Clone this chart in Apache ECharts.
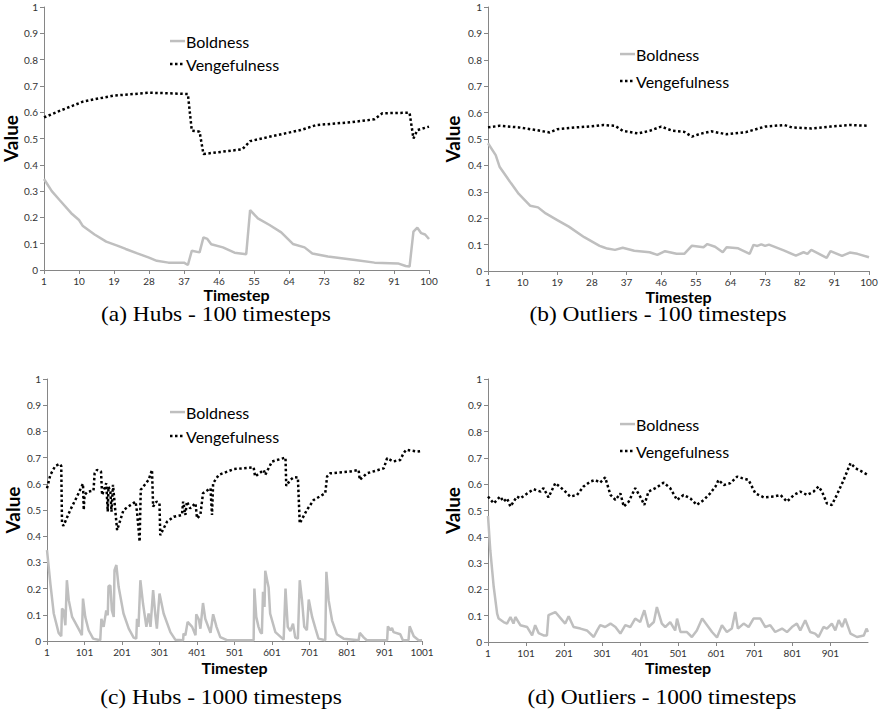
<!DOCTYPE html>
<html lang="en">
<head>
<meta charset="UTF-8">
<title>Boldness and Vengefulness</title>
<script src="https://cdn.jsdelivr.net/npm/echarts@6/dist/echarts.min.js"></script>
<style>
  html, body { margin: 0; padding: 0; background: #fff; }
  #main { width: 881px; height: 726px; }
</style>
</head>
<body>
<div id="main"></div>
<script>
// [timestep, value] pairs

// (a) Hubs - 100 timesteps
var hubs100Bold = [[1,0.346],[3,0.3],[5,0.266],[8,0.216],[10,0.19],[11,0.167],[14,0.135],[17,0.108],[20,0.092],[22,0.08],[25,0.063],[28,0.047],[30,0.035],[33,0.028],[37,0.028],[38,0.019],[39,0.073],[41,0.067],[42,0.124],[43,0.118],[44,0.098],[47,0.086],[50,0.066],[53,0.06],[54,0.228],[56,0.196],[59,0.171],[62,0.143],[65,0.099],[68,0.086],[70,0.063],[74,0.051],[81,0.038],[86,0.028],[92,0.025],[94,0.015],[95,0.013],[96,0.146],[97,0.161],[98,0.14],[99,0.135],[100,0.118]];
var hubs100Veng = [[1,0.58],[5,0.605],[11,0.64],[15,0.652],[19,0.663],[24,0.669],[28,0.674],[33,0.672],[38,0.669],[39,0.53],[41,0.526],[42,0.441],[47,0.45],[52,0.459],[54,0.49],[60,0.51],[67,0.532],[71,0.551],[80,0.562],[86,0.573],[88,0.596],[95,0.598],[96,0.5],[97,0.532],[100,0.545]];

// (b) Outliers - 100 timesteps
var out100Bold = [[1,0.484],[3,0.439],[4,0.395],[7,0.332],[9,0.292],[12,0.247],[14,0.241],[16,0.218],[19,0.193],[22,0.168],[26,0.128],[30,0.095],[31,0.09],[32,0.085],[34,0.08],[36,0.088],[39,0.077],[43,0.071],[45,0.061],[47,0.075],[50,0.065],[52,0.065],[54,0.096],[57,0.09],[58,0.102],[60,0.092],[62,0.071],[63,0.09],[66,0.086],[69,0.065],[70,0.099],[71,0.095],[72,0.101],[73,0.095],[74,0.1],[78,0.077],[81,0.058],[83,0.071],[84,0.065],[85,0.08],[89,0.05],[90,0.075],[93,0.057],[95,0.07],[97,0.065],[100,0.052]];
var out100Veng = [[1,0.544],[4,0.55],[9,0.544],[13,0.535],[17,0.525],[19,0.537],[24,0.544],[28,0.548],[31,0.553],[34,0.55],[36,0.531],[40,0.521],[43,0.531],[46,0.547],[49,0.531],[52,0.527],[54,0.509],[56,0.519],[59,0.529],[63,0.518],[68,0.526],[73,0.547],[78,0.553],[80,0.544],[85,0.54],[90,0.547],[95,0.553],[100,0.55]];

// (c) Hubs - 1000 timesteps
var hubs1000Bold = [[1,0.347],[10,0.219],[19,0.105],[32,0.031],[39,0.018],[41,0.124],[45,0.117],[50,0.06],[54,0.232],[59,0.156],[68,0.092],[85,0.047],[94,0.022],[97,0.162],[103,0.092],[112,0.041],[124,0.009],[143,0.003],[146,0.085],[152,0.054],[159,0.117],[163,0.098],[165,0.209],[170,0.212],[174,0.117],[179,0.092],[181,0.27],[186,0.29],[192,0.207],[205,0.105],[219,0.047],[232,0.013],[239,0.009],[241,0.085],[245,0.054],[250,0.232],[257,0.143],[266,0.054],[272,0.105],[277,0.054],[284,0.194],[290,0.098],[294,0.047],[301,0.181],[312,0.105],[330,0.034],[343,0.005],[364,0.003],[365,0.028],[370,0.022],[376,0.073],[388,0.054],[397,0.022],[399,0.102],[406,0.082],[410,0.047],[417,0.145],[423,0.085],[437,0.031],[444,0.102],[453,0.054],[463,0.015],[481,0.003],[552,0.003],[554,0.2],[559,0.092],[565,0.054],[570,0.034],[574,0.028],[577,0.188],[581,0.13],[583,0.268],[588,0.232],[592,0.204],[596,0.105],[610,0.034],[632,0.005],[637,0.2],[643,0.054],[650,0.038],[657,0.066],[663,0.013],[670,0.009],[675,0.232],[681,0.156],[687,0.054],[694,0.041],[699,0.158],[708,0.092],[717,0.047],[725,0.009],[743,0.003],[746,0.264],[752,0.156],[761,0.079],[774,0.026],[792,0.009],[832,0.003],[835,0.031],[846,0.013],[854,0.003],[908,0.003],[910,0.056],[917,0.041],[921,0.05],[925,0.034],[943,0.026],[950,0.003],[965,0.003],[968,0.056],[979,0.018],[992,0.003],[1001,0.003]];
var hubs1000Veng = [[1,0.583],[10,0.634],[23,0.668],[35,0.676],[39,0.668],[41,0.449],[45,0.44],[63,0.5],[81,0.551],[94,0.592],[97,0.6],[99,0.5],[101,0.557],[109,0.57],[125,0.574],[128,0.64],[134,0.653],[145,0.647],[148,0.557],[159,0.602],[163,0.494],[165,0.589],[170,0.57],[173,0.494],[177,0.596],[183,0.5],[188,0.423],[205,0.5],[237,0.532],[241,0.494],[248,0.379],[250,0.513],[251,0.577],[272,0.615],[281,0.653],[284,0.513],[293,0.532],[301,0.526],[303,0.404],[321,0.455],[339,0.474],[361,0.481],[364,0.532],[370,0.481],[374,0.532],[383,0.506],[397,0.526],[401,0.468],[410,0.481],[417,0.564],[437,0.583],[441,0.481],[444,0.602],[459,0.634],[499,0.656],[552,0.663],[556,0.628],[579,0.653],[583,0.634],[601,0.685],[632,0.698],[637,0.7],[639,0.592],[650,0.615],[659,0.625],[670,0.624],[675,0.449],[694,0.5],[712,0.538],[743,0.564],[748,0.628],[756,0.64],[810,0.647],[832,0.653],[835,0.615],[854,0.64],[899,0.659],[908,0.698],[924,0.685],[943,0.691],[952,0.717],[959,0.73],[988,0.723],[1001,0.725]];

// (d) Outliers - 1000 timesteps
var out1000Bold = [[1,0.479],[7,0.349],[16,0.21],[25,0.108],[29,0.089],[42,0.076],[51,0.07],[60,0.095],[68,0.07],[73,0.095],[86,0.064],[104,0.057],[117,0.025],[125,0.064],[134,0.034],[147,0.025],[156,0.025],[160,0.102],[178,0.114],[196,0.083],[204,0.07],[213,0.098],[226,0.057],[244,0.051],[261,0.044],[279,0.019],[288,0.044],[296,0.064],[309,0.057],[323,0.07],[336,0.057],[349,0.032],[362,0.064],[375,0.057],[388,0.089],[401,0.076],[412,0.121],[423,0.057],[437,0.076],[445,0.133],[458,0.07],[467,0.057],[480,0.076],[493,0.044],[498,0.089],[507,0.038],[524,0.038],[537,0.019],[550,0.044],[564,0.089],[577,0.064],[590,0.038],[603,0.017],[616,0.064],[629,0.038],[642,0.051],[651,0.114],[658,0.051],[673,0.07],[686,0.057],[699,0.089],[717,0.089],[730,0.057],[743,0.064],[756,0.038],[774,0.051],[787,0.038],[800,0.057],[813,0.07],[822,0.044],[835,0.083],[848,0.038],[861,0.032],[870,0.019],[883,0.057],[892,0.051],[905,0.07],[914,0.044],[923,0.083],[932,0.057],[940,0.089],[954,0.032],[971,0.019],[989,0.025],[996,0.051],[1000,0.038]];
var out1000Veng = [[1,0.553],[16,0.527],[33,0.553],[42,0.534],[51,0.546],[60,0.515],[77,0.553],[86,0.546],[104,0.565],[121,0.581],[139,0.572],[147,0.585],[160,0.55],[178,0.604],[200,0.578],[217,0.553],[235,0.559],[252,0.591],[270,0.61],[283,0.616],[296,0.606],[309,0.626],[323,0.559],[336,0.54],[349,0.565],[358,0.515],[371,0.534],[388,0.585],[401,0.553],[412,0.521],[423,0.572],[441,0.585],[454,0.597],[463,0.606],[480,0.585],[498,0.54],[515,0.559],[533,0.546],[550,0.521],[568,0.54],[585,0.565],[599,0.591],[607,0.616],[621,0.597],[638,0.604],[656,0.629],[669,0.623],[686,0.616],[704,0.565],[726,0.55],[752,0.553],[770,0.559],[787,0.534],[805,0.559],[822,0.572],[840,0.559],[857,0.572],[870,0.591],[879,0.572],[892,0.527],[905,0.521],[918,0.559],[936,0.616],[954,0.68],[967,0.661],[984,0.648],[1000,0.635]];

var panels = [
  { bold: hubs100Bold, veng: hubs100Veng, grid: { left: 44, top: 7, width: 385, height: 263 },
    max: 99, interval: 9, showMax: true, xNameGap: 13, yNameGap: 22,
    legend: { left: 170, top: 33, itemGap: 7 } },
  { bold: out100Bold, veng: out100Veng, grid: { left: 488, top: 7, width: 381, height: 264 },
    max: 99, interval: 9, showMax: true, xNameGap: 17, yNameGap: 26,
    legend: { left: 620, top: 46, itemGap: 11 } },
  { bold: hubs1000Bold, veng: hubs1000Veng, grid: { left: 47, top: 379, width: 375, height: 262 },
    max: 1000, interval: 100, showMax: true, xNameGap: 18, yNameGap: 25,
    legend: { left: 170, top: 404, itemGap: 8 } },
  { bold: out1000Bold, veng: out1000Veng, grid: { left: 488, top: 379, width: 380, height: 263 },
    max: 999, interval: 100, showMax: false, xNameGap: 17, yNameGap: 26,
    legend: { left: 620, top: 416, itemGap: 11 } }
];

var captions = [
  { text: '(a) Hubs - 100 timesteps', x: 216, y: 315 },
  { text: '(b) Outliers - 100 timesteps', x: 658, y: 315 },
  { text: '(c) Hubs - 1000 timesteps', x: 221, y: 698 },
  { text: '(d) Outliers - 1000 timesteps', x: 662, y: 698 }
];

var labelFont = 'Lato, "Open Sans", sans-serif';
var axisGrey = '#868686';
var boldGrey = '#BFBFBF';
// legend keys: a short solid bar and three square dots, inside a 15x14 box
var boldIcon = 'path://M0,0M15,14M0,5.8h15v2.5h-15z';
var vengIcon = 'path://M0,0M15,14M0,5.8h2.5v2.5h-2.5zM5,5.8h2.5v2.5h-2.5zM10,5.8h2.5v2.5h-2.5z';

function shift(arr) {
  return arr.map(function (p) { return [p[0] - 1, p[1]]; });
}

var grids = [], xAxes = [], yAxes = [], series = [], legends = [];
panels.forEach(function (p, i) {
  grids.push(p.grid);
  xAxes.push({
    type: 'value', gridIndex: i, min: 0, max: p.max, interval: p.interval,
    name: 'Timestep', nameLocation: 'middle', nameGap: p.xNameGap,
    nameTextStyle: { fontFamily: labelFont, fontWeight: 'bold', fontSize: 16, color: '#000', verticalAlign: 'top', lineHeight: 16 },
    splitLine: { show: false },
    axisLine: { show: true, lineStyle: { color: axisGrey, width: 1 } },
    axisTick: { show: true, length: 4, lineStyle: { color: axisGrey } },
    axisLabel: { fontFamily: labelFont, fontSize: 10, color: '#333', margin: 6,
      showMaxLabel: p.showMax, formatter: function (v) { return String(v + 1); } }
  });
  yAxes.push({
    type: 'value', gridIndex: i, min: 0, max: 1, interval: 0.1,
    name: 'Value', nameLocation: 'middle', nameGap: p.yNameGap, nameRotate: 90,
    nameTextStyle: { fontFamily: labelFont, fontWeight: 'bold', fontSize: 19, color: '#000' },
    splitLine: { show: false },
    axisLine: { show: true, lineStyle: { color: axisGrey, width: 1 } },
    axisTick: { show: true, length: 4, lineStyle: { color: axisGrey } },
    axisLabel: { fontFamily: labelFont, fontSize: 10, color: '#333', margin: 6 }
  });
  series.push({
    name: 'Boldness', type: 'line', xAxisIndex: i, yAxisIndex: i,
    data: shift(p.bold), symbol: 'none', animation: false,
    lineStyle: { color: boldGrey, width: 2.5 }, itemStyle: { color: boldGrey }
  });
  series.push({
    name: 'Vengefulness', type: 'line', xAxisIndex: i, yAxisIndex: i,
    data: shift(p.veng), symbol: 'none', animation: false,
    lineStyle: { color: '#000', width: 2.5, type: [2.5, 2.5] }, itemStyle: { color: '#000' }
  });
  legends.push({
    data: [
      { name: 'Boldness', icon: boldIcon, itemStyle: { color: boldGrey, borderWidth: 0 } },
      { name: 'Vengefulness', icon: vengIcon, itemStyle: { color: '#000', borderWidth: 0 } }
    ],
    orient: 'vertical', left: p.legend.left, top: p.legend.top, itemGap: p.legend.itemGap,
    itemWidth: 15, itemHeight: 14, selectedMode: false, padding: 0,
    itemStyle: { borderWidth: 0 },
    textStyle: { fontFamily: labelFont, fontSize: 16, color: '#000', padding: [0, 0, 0, -4] }
  });
});

var chart = echarts.init(document.getElementById('main'), null, { renderer: 'svg' });
chart.setOption({
  backgroundColor: '#fff',
  animation: false,
  grid: grids,
  xAxis: xAxes,
  yAxis: yAxes,
  legend: legends,
  series: series,
  graphic: captions.map(function (c) {
    return {
      type: 'text', x: c.x, y: c.y, scaleX: 1.17,
      style: { text: c.text, font: '20px "Liberation Serif", "Times New Roman", serif',
        fill: '#000', align: 'center', verticalAlign: 'middle' }
    };
  })
});
</script>
</body>
</html>
